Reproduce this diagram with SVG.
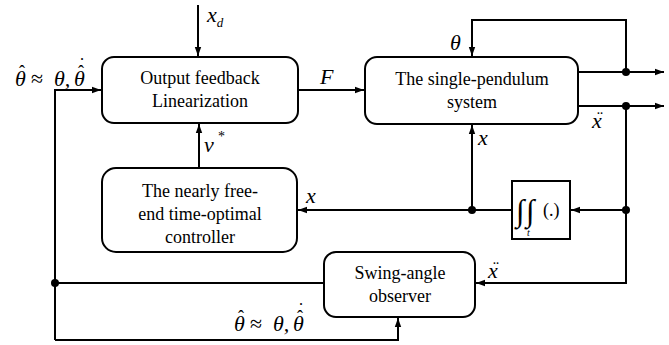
<svg xmlns="http://www.w3.org/2000/svg" width="669" height="345" viewBox="0 0 669 345">
<defs>
<marker id="ah" markerWidth="10" markerHeight="8" refX="9" refY="4" orient="auto" markerUnits="userSpaceOnUse"><path d="M0,0.8 L9,4 L0,7.2 z" fill="#000"/></marker>
<style>
.box{fill:#fff;stroke:#000;stroke-width:2}
.t{font-family:"Liberation Serif","Times New Roman",serif;font-size:18px;fill:#000;text-anchor:middle}
.m{font-family:"Liberation Serif","Times New Roman",serif;font-style:italic;font-size:22px;fill:#000}
.a{font-family:"Liberation Serif","Times New Roman",serif;font-size:18px;fill:#000;text-anchor:middle}
.s{font-family:"Liberation Serif","Times New Roman",serif;fill:#000}
.w{fill:none;stroke:#000;stroke-width:2}
.dot{fill:#000}
</style>
</defs>
<rect width="669" height="345" fill="#fff"/>

<g id="connectors">
<path class="w" d="M198,5 V56" marker-end="url(#ah)"/>
<path class="w" d="M298,90 H364" marker-end="url(#ah)"/>
<path class="w" d="M626,72 V20 H472 V56" marker-end="url(#ah)"/>
<path class="w" d="M578,72 H664" marker-end="url(#ah)"/>
<path class="w" d="M578,106 H664" marker-end="url(#ah)"/>
<path class="w" d="M626,106 V283 H476" marker-end="url(#ah)"/>
<path class="w" d="M626,210 H571" marker-end="url(#ah)"/>
<path class="w" d="M512,210 H298" marker-end="url(#ah)"/>
<path class="w" d="M472,210 V125" marker-end="url(#ah)"/>
<path class="w" d="M199,168 V124" marker-end="url(#ah)"/>
<path class="w" d="M324,283 H55"/>
<path class="w" d="M55,340 V90 H101" marker-end="url(#ah)"/>
<path class="w" d="M55,340 H398 V318" marker-end="url(#ah)"/>
<circle class="dot" cx="626" cy="72" r="4"/>
<circle class="dot" cx="626" cy="106" r="4"/>
<circle class="dot" cx="626" cy="210" r="4"/>
<circle class="dot" cx="472" cy="210" r="4"/>
<circle class="dot" cx="55" cy="283" r="4"/>
</g>

<g id="labels">
<text class="m" x="207" y="22">x<tspan font-size="13" dy="5">d</tspan></text>
<text class="m" x="320" y="84">F</text>
<text class="m" x="450" y="50">θ</text>
<text class="m" x="592" y="128">x</text><text class="a" x="600" y="124">¨</text>
<text class="m" x="478" y="145">x</text>
<text class="m" x="306" y="203">x</text>
<text class="m" x="204" y="152">v</text><text class="s" x="218" y="141" font-size="14">*</text>
<text class="m" x="488" y="278">x</text><text class="a" x="496" y="274">¨</text>
<g id="lab-left">
<text class="m" x="15" y="86">θ</text><text class="a" x="22" y="78">ˆ</text>
<text class="s" x="31" y="86" font-size="22">≈</text>
<text class="m" x="54" y="86">θ,</text>
<text class="m" x="74" y="86">θ</text><text class="a" x="81" y="78">ˆ</text><text class="a" x="82" y="71">˙</text>
</g>
<g id="lab-bottom">
<text class="m" x="234" y="331">θ</text><text class="a" x="241" y="323">ˆ</text>
<text class="s" x="250" y="331" font-size="22">≈</text>
<text class="m" x="273" y="331">θ,</text>
<text class="m" x="293" y="331">θ</text><text class="a" x="300" y="323">ˆ</text><text class="a" x="301" y="316">˙</text>
</g>
</g>

<g id="ofl">
<rect class="box" x="102" y="57" width="196" height="66" rx="12"/>
<text class="t" x="200" y="84">Output feedback</text>
<text class="t" x="200" y="107">Linearization</text>
</g>
<g id="plant">
<rect class="box" x="365" y="57" width="213" height="67" rx="12"/>
<text class="t" x="472" y="85">The single-pendulum</text>
<text class="t" x="472" y="108">system</text>
</g>
<g id="controller">
<rect class="box" x="102" y="168" width="195" height="84" rx="14"/>
<text class="t" x="200" y="197">The nearly free-</text>
<text class="t" x="200" y="220">end time-optimal</text>
<text class="t" x="200" y="243">controller</text>
</g>
<g id="integrator">
<rect class="box" x="512" y="181" width="58" height="58"/>
<text class="s" x="516" y="221" font-size="31">∫</text>
<text class="s" x="526" y="221" font-size="31">∫</text>
<text class="s" x="543" y="216" font-size="18">(.)</text>
<text class="s" x="527" y="236" font-style="italic" font-size="10">t</text>
</g>
<g id="observer">
<rect class="box" x="324" y="252" width="151" height="65" rx="12"/>
<text class="t" x="400" y="279">Swing-angle</text>
<text class="t" x="400" y="302">observer</text>
</g>
</svg>
